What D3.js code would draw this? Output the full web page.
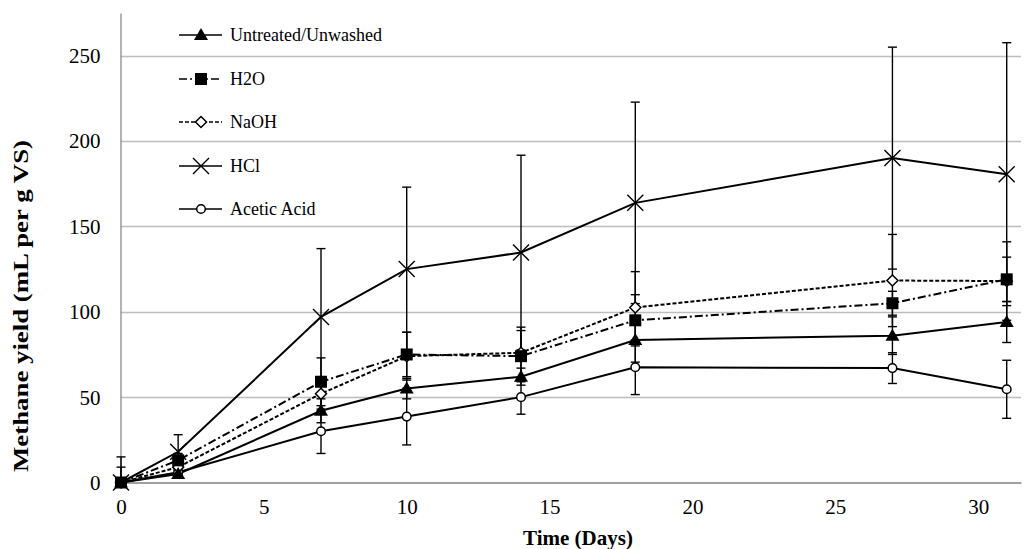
<!DOCTYPE html>
<html><head><meta charset="utf-8">
<script src="https://cdn.jsdelivr.net/npm/d3@7"></script>
<style>
html,body{margin:0;padding:0;background:#fff;}
svg{display:block;}
text{font-family:"Liberation Serif","Times New Roman",serif;fill:#000;}
</style></head>
<body><svg id="c" width="1024" height="549"></svg>
<script>
const days = [0, 2, 7, 10, 14, 18, 27, 31];
const seriesNames = ["Untreated/Unwashed", "H2O", "NaOH", "HCl", "Acetic Acid"];
const untreated    = [0, 5, 42, 55, 62, 83.5, 86, 94];
const untreatedErr = [0, 2, 7, 6, 5, 13, 11, 12];
const h2o          = [0, 13, 59, 75, 74, 95, 105, 119];
const h2oErr       = [15, 4, 14, 13, 15, 15, 7, 13];
const naoh         = [0, 9, 52, 74, 76, 102.5, 118.3, 118];
const naohErr      = [9, 3, 10, 14, 15, 21, 27, 23];
const hcl          = [0, 18, 97, 125, 134.7, 163.8, 190, 180.6];
const hclErr       = [0, 10, 40, 48, 57, 59, 65, 77];
const acetic       = [0, 6, 30, 38.6, 50, 67.5, 67, 54.6];
const aceticErr    = [0, 2, 13, 16.6, 10, 16, 9, 17];
const xTicks = [0, 5, 10, 15, 20, 25, 30];
const yTicks = [0, 50, 100, 150, 200, 250];

const series = [
  {name: seriesNames[0], v: untreated, e: untreatedErr, dash: null, marker: "tri", z: 5},
  {name: seriesNames[1], v: h2o, e: h2oErr, dash: "8,3,2,3", marker: "sq", z: 4},
  {name: seriesNames[2], v: naoh, e: naohErr, dash: "4,2", marker: "dia", z: 3},
  {name: seriesNames[3], v: hcl, e: hclErr, dash: null, marker: "x", z: 2},
  {name: seriesNames[4], v: acetic, e: aceticErr, dash: null, marker: "circ", z: 1}
];

const svg = d3.select("#c");
const x = d3.scaleLinear().domain([0, 31.5]).range([121, 1021]);
const y = d3.scaleLinear().domain([0, 275]).range([482.5, 13]);

// gridlines
svg.append("g").selectAll("line").data(yTicks.filter(d => d > 0)).join("line")
  .attr("x1", 121).attr("x2", 1021)
  .attr("y1", d => Math.round(y(d)) + 0.5).attr("y2", d => Math.round(y(d)) + 0.5)
  .attr("stroke", "#bdbdbd").attr("stroke-width", 1.3);

// axes
const yAxis = d3.axisLeft(y).tickValues(yTicks).tickSize(0).tickPadding(20);
const gy = svg.append("g").attr("transform", "translate(120.5,0)").call(yAxis);
gy.select(".domain").attr("stroke", "#8a8a8a").attr("stroke-width", 1.3);
gy.selectAll("text").attr("font-size", 21).attr("font-family", "Liberation Serif").attr("dy", "0.33em");

const xAxis = d3.axisBottom(x).tickValues(xTicks).tickSize(0).tickPadding(17);
const gx = svg.append("g").attr("transform", "translate(0,482.5)").call(xAxis);
gx.select(".domain").attr("stroke", "#808080").attr("stroke-width", 1.5);
gx.selectAll("text").attr("font-size", 21).attr("font-family", "Liberation Serif");

// titles
svg.append("text").attr("x", 578).attr("y", 545).attr("text-anchor", "middle")
  .attr("font-size", 21).attr("font-weight", "bold").text("Time (Days)");
svg.append("text").attr("transform", "translate(28,306) rotate(-90)").attr("text-anchor", "middle")
  .attr("font-size", 22).attr("font-weight", "bold")
  .attr("textLength", 332).attr("lengthAdjust", "spacingAndGlyphs")
  .text("Methane yield (mL per g VS)");

function drawMarker(g, type, cx, cy) {
  if (type === "tri") {
    g.append("path").attr("d", `M${cx},${cy-7}L${cx+7},${cy+5}L${cx-7},${cy+5}Z`).attr("fill", "#000");
  } else if (type === "sq") {
    g.append("rect").attr("x", cx-6).attr("y", cy-6).attr("width", 12).attr("height", 12).attr("fill", "#000");
  } else if (type === "dia") {
    g.append("path").attr("d", `M${cx},${cy-5.5}L${cx+5.5},${cy}L${cx},${cy+5.5}L${cx-5.5},${cy}Z`)
      .attr("fill", "#fff").attr("stroke", "#000").attr("stroke-width", 1.5);
  } else if (type === "x") {
    g.append("path").attr("d", `M${cx-8},${cy-8}L${cx+8},${cy+8}M${cx-8},${cy+8}L${cx+8},${cy-8}`)
      .attr("stroke", "#000").attr("stroke-width", 1.4).attr("fill", "none");
  } else if (type === "circ") {
    g.append("circle").attr("cx", cx).attr("cy", cy).attr("r", 4.3)
      .attr("fill", "#fff").attr("stroke", "#000").attr("stroke-width", 1.5);
  }
}

const line = d3.line().x((d, i) => x(days[i])).y(d => y(d));

const gLines = svg.append("g"), gErr = svg.append("g"), gMark = svg.append("g");
series.forEach(s => {
  gLines.append("path").attr("d", line(s.v)).attr("fill", "none").attr("stroke", "#000")
    .attr("stroke-width", 2).attr("stroke-dasharray", s.dash);
  s.v.forEach((v, i) => {
    if (!s.e[i]) return;
    const cx = x(days[i]);
    const y1 = y(v + s.e[i]), y2 = y(Math.max(0, v - s.e[i]));
    gErr.append("line").attr("x1", cx).attr("x2", cx).attr("y1", y1).attr("y2", y2)
      .attr("stroke", "#000").attr("stroke-width", 1.4);
    [v + s.e[i], v - s.e[i]].forEach(ev => {
      if (ev < 0) return;
      gErr.append("line").attr("x1", cx - 4.5).attr("x2", cx + 4.5).attr("y1", y(ev)).attr("y2", y(ev))
        .attr("stroke", "#000").attr("stroke-width", 1.4);
    });
  });
});
series.slice().sort((a, b) => a.z - b.z).forEach(s => {
  s.v.forEach((v, i) => drawMarker(gMark, s.marker, x(days[i]), y(v)));
});

// legend
const legY = [35, 79, 122, 166, 209];
series.forEach((s, i) => {
  const g = svg.append("g");
  g.append("line").attr("x1", 179).attr("x2", 222).attr("y1", legY[i]).attr("y2", legY[i])
    .attr("stroke", "#000").attr("stroke-width", 1.6).attr("stroke-dasharray", s.dash);
  drawMarker(g, s.marker, 201, legY[i]);
  g.append("text").attr("x", 230).attr("y", legY[i]).attr("dy", "0.33em")
    .attr("font-size", 18).text(s.name);
});
</script></body></html>
